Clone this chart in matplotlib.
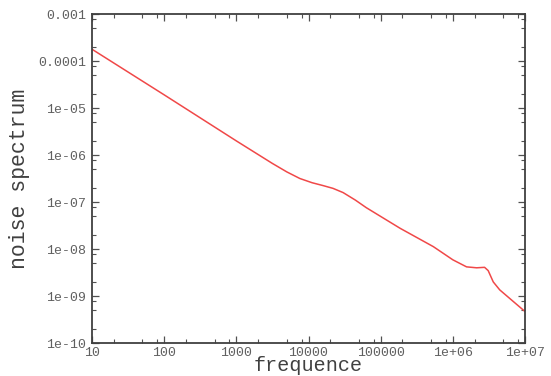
import numpy as np
import matplotlib
matplotlib.use("Agg")
import matplotlib.pyplot as plt
from matplotlib.ticker import FixedLocator, FixedFormatter, LogLocator, NullFormatter

# valeurs (log10)
log_freq = [1.0, 2.0, 3.0, 3.5, 3.7, 3.88, 4.05, 4.2, 4.34, 4.48, 4.65, 4.8, 5.27,
            5.73, 6.0, 6.19, 6.33, 6.44, 6.49, 6.56, 6.65, 6.84, 7.0]
log_noise = [-3.75, -4.72, -5.70, -6.18, -6.36, -6.50, -6.59, -6.65, -6.71, -6.80,
             -6.96, -7.12, -7.56, -7.95, -8.23, -8.38, -8.40, -8.39, -8.46, -8.70,
             -8.87, -9.12, -9.33]

x_ticks = [10, 100, 1000, 10000, 100000, 1e6, 1e7]
x_labels = ["10", "100", "1000", "10000", "100000", "1e+06", "1e+07"]
y_ticks = [1e-10, 1e-9, 1e-8, 1e-7, 1e-6, 1e-5, 1e-4, 1e-3]
y_labels = ["1e-10", "1e-09", "1e-08", "1e-07", "1e-06", "1e-05", "0.0001", "0.001"]

freq = 10.0 ** np.array(log_freq)
noise = 10.0 ** np.array(log_noise)

fig = plt.figure(figsize=(5.51, 3.76), dpi=100)
ax = fig.add_axes([92 / 551, 1 - 343 / 376, 433 / 551, 329 / 376])

ax.plot(freq, noise, color="#f04848", linewidth=1.1)

ax.set_xscale("log")
ax.set_yscale("log")
ax.set_xlim(10, 1e7)
ax.set_ylim(1e-10, 1e-3)

ax.xaxis.set_major_locator(FixedLocator(x_ticks))
ax.xaxis.set_major_formatter(FixedFormatter(x_labels))
ax.yaxis.set_major_locator(FixedLocator(y_ticks))
ax.yaxis.set_major_formatter(FixedFormatter(y_labels))
ax.xaxis.set_minor_locator(LogLocator(base=10, subs=[2, 5, 8]))
ax.yaxis.set_minor_locator(LogLocator(base=10, subs=[2, 5, 8]))
ax.xaxis.set_minor_formatter(NullFormatter())
ax.yaxis.set_minor_formatter(NullFormatter())

mono = "Liberation Mono"
ax.tick_params(which="both", direction="in", top=True, right=True,
               color="#505050", labelcolor="#606060")
ax.tick_params(which="major", length=5, width=0.9, labelsize=9.5)
ax.tick_params(axis="x", which="major", pad=3)
ax.tick_params(axis="y", which="major", pad=4)
ax.tick_params(which="minor", length=3, width=0.8)
for lab in ax.get_xticklabels() + ax.get_yticklabels():
    lab.set_family(mono)

for sp in ax.spines.values():
    sp.set_color("#404040")
    sp.set_linewidth(1.3)

ax.set_xlabel("frequence", family=mono, fontsize=14.5, color="#404040",
              va="baseline")
ax.xaxis.set_label_coords(0.5, (343 - 371) / 329)
ax.set_ylabel("noise spectrum", family=mono, fontsize=15.5, color="#404040", labelpad=6)

fig.savefig("out.png", dpi=100)
